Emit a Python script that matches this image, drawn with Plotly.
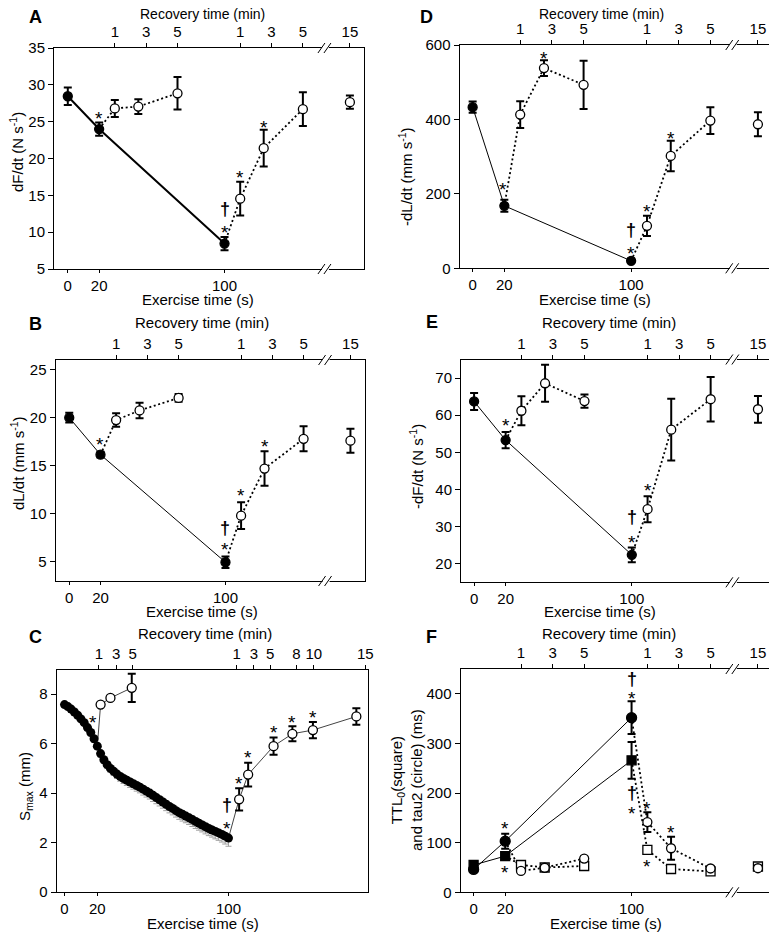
import plotly.graph_objects as go

BODY_OFF = 8          # default page margin before the plot div
W, H = 777 - BODY_OFF, 932 - BODY_OFF
FONT = "Liberation Sans, Arial, Helvetica, sans-serif"

# ---------------- shared time positions ----------------
EX_T = [0, 20, 100]
REC1_T = [30, 45, 70]
REC2_T = [110, 125, 150, 180]
EX_TICKS = [0, 20, 100]
TOP_TICKVALS = [30, 50, 70, 110, 130, 150, 180]
TOP_TICKTEXT = ["1", "3", "5", "1", "3", "5", "15"]
BREAK_X = 166

# ---------------- Panel A: dF/dt ----------------
A_EX_Y = [28.45, 24.0, 8.45]
A_EX_ERR = [1.2, 0.9, 0.9]
A_REC1_Y = [26.8, 27.05, 28.85]
A_REC1_ERR = [1.15, 1.0, 2.2]
A_REC2_Y = [14.55, 21.4, 26.7, 27.65]
A_REC2_ERR = [2.3, 2.5, 2.3, 0.9]
A_YTICKS = [5, 10, 15, 20, 25, 30, 35]
A_SIG = [("*", 20, 26.1), ("*", 100, 10.7), ("†", 100, 13.1), ("*", 110, 18.1), ("*", 125, 24.9)]

# ---------------- Panel B: dL/dt ----------------
B_EX_Y = [20.0, 16.15, 4.95]
B_EX_ERR = [0.5, 0.3, 0.6]
B_REC1_Y = [19.75, 20.75, 22.05]
B_REC1_ERR = [0.7, 0.8, 0.4]
B_REC2_Y = [9.8, 14.7, 17.8, 17.6]
B_REC2_ERR = [1.4, 1.8, 1.3, 1.25]
B_YTICKS = [5, 10, 15, 20, 25]
B_SIG = [("*", 20, 17.7), ("*", 100, 6.75), ("†", 100, 8.5), ("*", 110, 12.45), ("*", 125, 17.5)]

# ---------------- Panel C: Smax ----------------
C_EX_T = [0, 2, 4, 6, 8, 10, 12, 14, 16, 18, 20, 22, 24, 26, 28, 30, 32, 34, 36, 38,
          40, 42, 44, 46, 48, 50, 52, 54, 56, 58, 60, 62, 64, 66, 68, 70, 72, 74, 76, 78,
          80, 82, 84, 86, 88, 90, 92, 94, 96, 98, 100]
C_EX_Y = [7.58, 7.50, 7.40, 7.28, 7.15, 7.00, 6.85, 6.65, 6.45, 6.20, 5.90, 5.60, 5.35,
          5.15, 5.00, 4.88, 4.77, 4.67, 4.59, 4.52, 4.45, 4.38, 4.31, 4.24, 4.16, 4.08,
          4.00, 3.91, 3.82, 3.73, 3.64, 3.55, 3.46, 3.38, 3.29, 3.21, 3.14, 3.07, 3.00,
          2.93, 2.85, 2.78, 2.71, 2.64, 2.57, 2.51, 2.45, 2.39, 2.33, 2.26, 2.18]
C_EX_SE = [0.10, 0.10, 0.10, 0.11, 0.11, 0.12, 0.12, 0.13, 0.13, 0.14, 0.14, 0.15, 0.15,
           0.16, 0.16, 0.17, 0.18, 0.19, 0.20, 0.21, 0.22, 0.22, 0.23, 0.23, 0.24, 0.24,
           0.24, 0.25, 0.25, 0.25, 0.25, 0.26, 0.26, 0.26, 0.26, 0.27, 0.27, 0.27, 0.27,
           0.28, 0.28, 0.28, 0.28, 0.29, 0.29, 0.29, 0.30, 0.30, 0.31, 0.32, 0.33]
C_LINK_T = 20
C_LINK_Y = 5.90
C_REC1_T = [22, 28, 41]
C_REC1_Y = [7.58, 7.85, 8.26]
C_REC1_ERR = [0.05, 0.05, 0.57]
C_REC2_T = [106.5, 112, 127.5, 139, 151.5, 178]
C_REC2_Y = [3.75, 4.75, 5.9, 6.4, 6.55, 7.1]
C_REC2_ERR = [0.45, 0.48, 0.35, 0.3, 0.33, 0.33]
C_TOP_TICKVALS = [21, 31.5, 41.5, 105, 115.5, 125.5, 141.5, 152, 183.5]
C_TOP_TICKTEXT = ["1", "3", "5", "1", "3", "5", "8", "10", "15"]
C_YTICKS = [0, 2, 4, 6, 8]
C_SIG = [("*", 17.5, 7.04), ("†", 99, 3.53), ("*", 99, 2.78), ("*", 106.5, 4.6),
         ("*", 112, 5.65), ("*", 127.5, 6.65), ("*", 139, 7.05), ("*", 151.5, 7.25)]

# ---------------- Panel D: -dL/dt ----------------
D_EX_Y = [433, 168, 20]
D_EX_ERR = [15, 16, 6]
D_REC1_Y = [413, 538, 493]
D_REC1_ERR = [36, 21, 65]
D_REC2_Y = [114, 302, 397, 387]
D_REC2_ERR = [27, 41, 36, 32]
D_YTICKS = [0, 200, 400, 600]
D_SIG = [("*", 19, 226), ("*", 45, 576), ("*", 100, 54), ("†", 100, 103), ("*", 110, 165), ("*", 125, 363)]

# ---------------- Panel E: -dF/dt ----------------
E_EX_Y = [63.7, 53.3, 22.4]
E_EX_ERR = [2.3, 2.2, 2.0]
E_REC1_Y = [61.2, 68.6, 63.8]
E_REC1_ERR = [3.9, 5.0, 1.8]
E_REC2_Y = [34.7, 56.1, 64.3, 61.6]
E_REC2_ERR = [3.5, 8.3, 6.0, 3.6]
E_YTICKS = [20, 30, 40, 50, 60, 70]
E_SIG = [("*", 20, 58.6), ("*", 100, 27.2), ("†", 100, 32.6), ("*", 110, 41.1)]

# ---------------- Panel F: TTL0 (square) and tau2 (circle) ----------------
F_TAU_EX_Y = [46, 103, 352]
F_TAU_EX_ERR = [5, 15, 33]
F_TAU_REC1_Y = [43, 49.5, 68]
F_TAU_REC1_ERR = [4, 4, 4]
F_TAU_REC2_Y = [141.5, 88.8, 48, 48.5]
F_TAU_REC2_ERR = [20, 23, 5, 5]
F_TTL_EX_Y = [55, 73, 266]
F_TTL_EX_ERR = [8, 5, 37]
F_TTL_REC1_Y = [55, 50, 53]
F_TTL_REC1_ERR = [3, 3, 3]
F_TTL_REC2_Y = [85.5, 47, 42, 52]
F_TTL_REC2_ERR = [4, 3, 3, 3]
F_YTICKS = [0, 100, 200, 300, 400]
F_SIG = [("*", 20, 138), ("*", 20, 50.5), ("†", 100, 429), ("*", 100, 400), ("†", 100, 201),
         ("*", 100, 168), ("*", 110, 178), ("*", 110, 62), ("*", 125, 130.5)]

fig = go.Figure()
layout = {}
annotations = []
shapes = []

DOT = "2px,2.6px"


def ax(n):
    return "" if n == 1 else str(n)


def px_x(p):
    return (p - BODY_OFF) / W


def px_y(p):
    return 1 - (p - BODY_OFF) / H


def setup_panel(n, box, xr, yr, yticks, top_vals, top_text, has_break=True):
    l, r, t, b = box
    layout["xaxis" + ax(n)] = dict(
        domain=[px_x(l), px_x(r)], range=xr, anchor="y" + ax(n), automargin=False,
        tickvals=EX_TICKS, ticks="outside", ticklen=3, tickwidth=1, tickcolor="black",
        showline=True, linecolor="black", linewidth=1, mirror=True,
        showgrid=False, zeroline=False, tickfont=dict(size=15, color="black", family=FONT))
    layout["xaxis" + str(n + 6)] = dict(
        overlaying="x" + ax(n), side="top", anchor="y" + ax(n), range=xr, automargin=False,
        tickvals=top_vals, ticktext=top_text, ticks="outside", ticklen=4, tickwidth=1,
        tickcolor="black", showline=False, showgrid=False, zeroline=False,
        tickfont=dict(size=15, color="black", family=FONT))
    layout["yaxis" + ax(n)] = dict(
        domain=[px_y(b), px_y(t)], range=yr, anchor="x" + ax(n), automargin=False,
        tickvals=yticks, ticks="outside", ticklen=5, tickwidth=1, tickcolor="black",
        showline=True, linecolor="black", linewidth=1, mirror=True,
        showgrid=False, zeroline=False, tickfont=dict(size=15, color="black", family=FONT))
    fig.add_trace(go.Scatter(x=[None], y=[None], mode="markers", xaxis="x" + str(n + 6),
                             yaxis="y" + ax(n), showlegend=False, hoverinfo="skip"))
    if has_break:
        for yy in (0, 1):
            common = dict(xref="x" + ax(n), yref="y" + ax(n) + " domain",
                          xsizemode="pixel", xanchor=BREAK_X,
                          ysizemode="pixel", yanchor=yy)
            shapes.append(dict(type="rect", x0=-6, x1=1, y0=-2, y1=2,
                               fillcolor="white", line=dict(width=0), **common))
            shapes.append(dict(type="line", x0=-10, x1=-3, y0=-5, y1=5,
                               line=dict(color="black", width=1), **common))
            shapes.append(dict(type="line", x0=-4, x1=3, y0=-5, y1=5,
                               line=dict(color="black", width=1), **common))


def line(n, xs, ys, dash="solid", width=1.0, color="black"):
    fig.add_trace(go.Scatter(x=xs, y=ys, mode="lines",
                             line=dict(color=color, width=width, dash=dash),
                             xaxis="x" + ax(n), yaxis="y" + ax(n),
                             showlegend=False, hoverinfo="skip"))


def pts(n, xs, ys, err, filled=True, symbol="circle", size=9):
    fig.add_trace(go.Scatter(
        x=xs, y=ys, mode="markers",
        marker=dict(symbol=symbol, size=size, color="black" if filled else "white",
                    line=dict(color="black", width=1.3)),
        error_y=dict(type="data", array=err, color="black", thickness=2, width=4),
        xaxis="x" + ax(n), yaxis="y" + ax(n), showlegend=False, hoverinfo="skip"))


def sig(n, marks):
    for s, x, y in marks:
        is_star = s == "*"
        annotations.append(dict(text=s if is_star else "<b>%s</b>" % s, x=x, y=y,
                                xref="x" + ax(n), yref="y" + ax(n),
                                showarrow=False, xanchor="center", yanchor="middle",
                                yshift=-5 if is_star else 0,
                                font=dict(size=19 if is_star else 18, color="black",
                                          family=FONT)))


def paper_text(text, xy, size=15, angle=0):
    annotations.append(dict(text=text, x=px_x(xy[0]), y=px_y(xy[1]), textangle=angle,
                            xref="paper", yref="paper", showarrow=False,
                            xanchor="center", yanchor="middle",
                            font=dict(size=size, color="black", family=FONT)))


def titles(letter, lxy, rxy, exy, ylab, yxy, rec_size=15):
    paper_text("<b>%s</b>" % letter, lxy, size=18)
    paper_text("Recovery time (min)", rxy, size=rec_size)
    paper_text("Exercise time (s)", exy)
    paper_text(ylab, yxy, angle=-90)


def standard_panel(n, box, xr, yr, yticks, ex_y, ex_err, r1_y, r1_err, r2_y, r2_err, marks, lw):
    setup_panel(n, box, xr, yr, yticks, TOP_TICKVALS, TOP_TICKTEXT)
    line(n, EX_T, ex_y, width=lw)
    line(n, [EX_T[1]] + REC1_T, [ex_y[1]] + r1_y, dash=DOT, width=1.8)
    line(n, [EX_T[2]] + REC2_T[:3], [ex_y[2]] + r2_y[:3], dash=DOT, width=1.8)
    pts(n, EX_T, ex_y, ex_err, filled=True)
    pts(n, REC1_T, r1_y, r1_err, filled=False)
    pts(n, REC2_T, r2_y, r2_err, filled=False)
    sig(n, marks)


XR_L = [-8.8, 189]
XR_R = [-8.3, 187]

# A
standard_panel(1, (54, 364, 48, 269), XR_L, [5, 35], A_YTICKS,
               A_EX_Y, A_EX_ERR, A_REC1_Y, A_REC1_ERR, A_REC2_Y, A_REC2_ERR, A_SIG, 2)
titles("A", (35, 17), (202, 14), (198, 299), "dF/dt (N s<sup>-1</sup>)", (16, 152), rec_size=14)

# B
standard_panel(2, (55.5, 364.5, 360, 581), XR_L, [3, 26], B_YTICKS,
               B_EX_Y, B_EX_ERR, B_REC1_Y, B_REC1_ERR, B_REC2_Y, B_REC2_ERR, B_SIG, 1)
titles("B", (35, 324), (202, 322), (202, 611), "dL/dt (mm s<sup>-1</sup>)", (17, 463))

# C
setup_panel(3, (56.5, 367.5, 669.5, 892), [-4.9, 184.8], [0, 9], C_YTICKS,
            C_TOP_TICKVALS, C_TOP_TICKTEXT, has_break=False)
line(3, [C_LINK_T] + C_REC1_T, [C_LINK_Y] + C_REC1_Y, width=1, color="#444")
line(3, [C_EX_T[-1]] + C_REC2_T, [C_EX_Y[-1]] + C_REC2_Y, width=1, color="#444")
fig.add_trace(go.Scatter(
    x=C_EX_T, y=C_EX_Y, mode="markers",
    marker=dict(symbol="circle", size=9, color="black", line=dict(width=0)),
    error_y=dict(type="data", symmetric=False, array=[0 for _ in C_EX_SE],
                 arrayminus=C_EX_SE, color="#a0a0a0", thickness=1, width=3),
    xaxis="x3", yaxis="y3", showlegend=False, hoverinfo="skip"))
pts(3, C_REC1_T, C_REC1_Y, C_REC1_ERR, filled=False)
pts(3, C_REC2_T, C_REC2_Y, C_REC2_ERR, filled=False)
sig(3, C_SIG)
titles("C", (35, 637), (205, 633), (203, 923), "S<sub>max</sub> (mm)", (25, 787))

# D
standard_panel(4, (459.5, 769, 45, 268.3), XR_R, [0, 600], D_YTICKS,
               D_EX_Y, D_EX_ERR, D_REC1_Y, D_REC1_ERR, D_REC2_Y, D_REC2_ERR, D_SIG, 1)
titles("D", (427, 17), (601, 14), (595, 299), "-dL/dt (mm s<sup>-1</sup>)", (405, 177), rec_size=14)

# E
standard_panel(5, (461, 769, 359.5, 582.3), XR_R, [15, 75], E_YTICKS,
               E_EX_Y, E_EX_ERR, E_REC1_Y, E_REC1_ERR, E_REC2_Y, E_REC2_ERR, E_SIG, 1)
titles("E", (432, 322), (609, 322), (600, 611), "-dF/dt (N s<sup>-1</sup>)", (416, 467))

# F
setup_panel(6, (460.5, 769, 669, 892.3), XR_R, [0, 450], F_YTICKS, TOP_TICKVALS, TOP_TICKTEXT)
for ex_y, r1_y, r2_y in ((F_TAU_EX_Y, F_TAU_REC1_Y, F_TAU_REC2_Y), (F_TTL_EX_Y, F_TTL_REC1_Y, F_TTL_REC2_Y)):
    line(6, EX_T, ex_y, width=1)
    line(6, [EX_T[1]] + REC1_T, [ex_y[1]] + r1_y, dash=DOT, width=1.8)
    line(6, [EX_T[2]] + REC2_T[:3], [ex_y[2]] + r2_y[:3], dash=DOT, width=1.8)
pts(6, EX_T, F_TTL_EX_Y, F_TTL_EX_ERR, filled=True, symbol="square", size=9)
pts(6, REC1_T, F_TTL_REC1_Y, F_TTL_REC1_ERR, filled=False, symbol="square", size=9)
pts(6, REC2_T, F_TTL_REC2_Y, F_TTL_REC2_ERR, filled=False, symbol="square", size=9)
pts(6, EX_T, F_TAU_EX_Y, F_TAU_EX_ERR, filled=True, size=10)
pts(6, REC1_T, F_TAU_REC1_Y, F_TAU_REC1_ERR, filled=False)
pts(6, REC2_T, F_TAU_REC2_Y, F_TAU_REC2_ERR, filled=False)
sig(6, F_SIG)
titles("F", (432, 637), (609, 633), (606, 923),
       "TTL<sub>0</sub>(square)<br>and tau2 (circle) (ms)", (406, 780))

layout.update(dict(
    width=W, height=H, margin=dict(l=0, r=0, t=0, b=0, autoexpand=False),
    paper_bgcolor="white", plot_bgcolor="white",
    font=dict(family=FONT, size=15, color="black"),
    showlegend=False, annotations=annotations, shapes=shapes))
fig.update_layout(**layout)
fig.write_html("out.html")
